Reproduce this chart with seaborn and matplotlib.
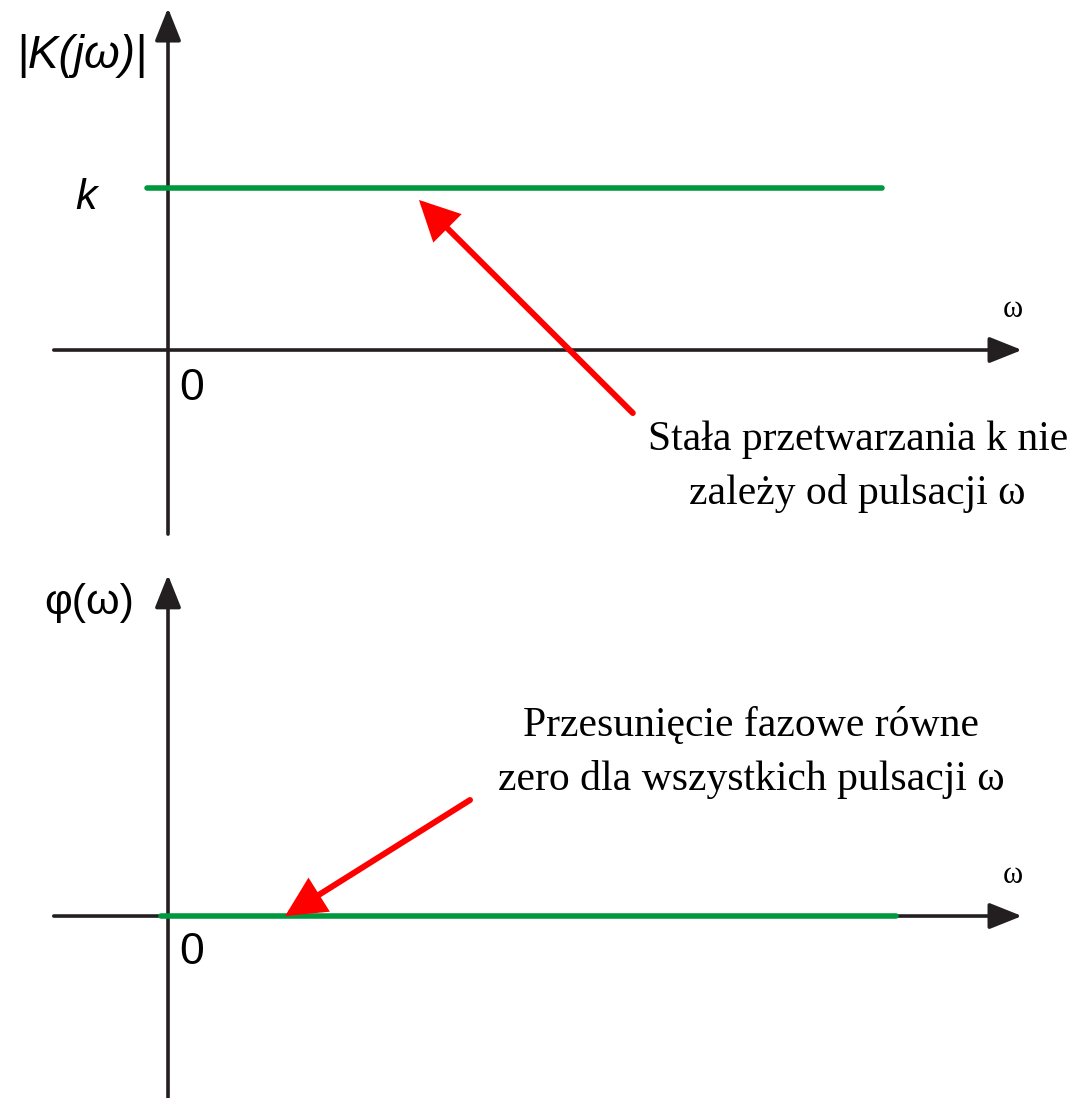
import matplotlib
matplotlib.use("Agg")
import matplotlib.pyplot as plt
import pandas as pd
import seaborn as sns

# Amplitude characteristic: constant gain k over the whole pulsation range
omega_gain = [-0.03, 1.0]
gain = [1.0, 1.0]

# Phase characteristic: zero phase shift for all pulsations
omega_phase = [-0.01, 1.02]
phase = [0.0, 0.0]

gain_label = "|K(jω)|"
gain_level_label = "k"
phase_label = "φ(ω)"
axis_label = "ω"
origin_label = "0"
note_gain = "Stała przetwarzania k nie\nzależy od pulsacji ω"
note_phase = "Przesunięcie fazowe równe\nzero dla wszystkich pulsacji ω"

GREEN = "#00973f"
RED = "#ff0000"
INK = "#231f20"

sns.set_theme(style="white")
plt.rcParams["font.family"] = ["Liberation Sans", "DejaVu Sans"]
plt.rcParams["text.color"] = "black"

fig = plt.figure(figsize=(10.86, 10.98), dpi=100)
fig.patch.set_facecolor("white")
ax_top = fig.add_axes([0, 0.5, 1, 0.5])
ax_bot = fig.add_axes([0, 0, 1, 0.5])

XLIM = (-0.2353, 1.2857)
ax_top.set_xlim(*XLIM)
ax_top.set_ylim(-1.228, 2.160)
ax_bot.set_xlim(*XLIM)
ax_bot.set_ylim(-1.123, 2.265)

for ax in (ax_top, ax_bot):
    ax.axis("off")
    ax.patch.set_alpha(0)


def axis_arrow(ax, start, end):
    ax.annotate("", xy=end, xytext=start,
                arrowprops=dict(arrowstyle="-|>,head_length=1.0,head_width=0.40",
                                mutation_scale=20, lw=2.6, color=INK,
                                shrinkA=0, shrinkB=0), zorder=2)


def pointer(ax, tail, tip):
    ax.annotate("", xy=tip, xytext=tail,
                arrowprops=dict(arrowstyle="-|>,head_length=1.1,head_width=0.55",
                                mutation_scale=20, lw=4.3, color=RED,
                                shrinkA=0, shrinkB=0, joinstyle="miter"), zorder=4)


# --- gain panel ---
axis_arrow(ax_top, (-0.16, 0), (1.196, 0))
axis_arrow(ax_top, (0, -1.136), (0, 2.11))
sns.lineplot(x=omega_gain, y=gain, ax=ax_top, color=GREEN, lw=4.0, zorder=3)
pointer(ax_top, (0.651, -0.389), (0.3515, 0.926))

ax_top.text(-0.121, 1.815, gain_label, fontsize=33, style="italic",
            ha="center", va="center")
ax_top.text(-0.115, 0.938, gain_level_label, fontsize=31, style="italic",
            ha="center", va="center")
ax_top.text(0.0336, -0.235, origin_label, fontsize=32, ha="center", va="center")
ax_top.text(1.1835, 0.247, axis_label, fontsize=22, ha="center", va="center",
            family=["Liberation Serif"])
ax_top.text(0.966, -0.722, note_gain, fontsize=30, ha="center", va="center",
            family=["Liberation Serif"], linespacing=1.5)

# --- phase panel ---
axis_arrow(ax_bot, (-0.16, 0), (1.196, 0))
axis_arrow(ax_bot, (0, -1.2), (0, 2.105))
sns.lineplot(x=omega_phase, y=phase, ax=ax_bot, color=GREEN, lw=4.0, zorder=3)
pointer(ax_bot, (0.423, 0.716), (0.164, 0.0))

ax_bot.text(-0.111, 1.932, phase_label, fontsize=31, ha="center", va="center")
ax_bot.text(0.0336, -0.228, origin_label, fontsize=32, ha="center", va="center")
ax_bot.text(1.1835, 0.253, axis_label, fontsize=22, ha="center", va="center",
            family=["Liberation Serif"])
ax_bot.text(0.8165, 1.006, note_phase, fontsize=30, ha="center", va="center",
            family=["Liberation Serif"], linespacing=1.5)

fig.savefig("out.png", dpi=100, facecolor="white")
